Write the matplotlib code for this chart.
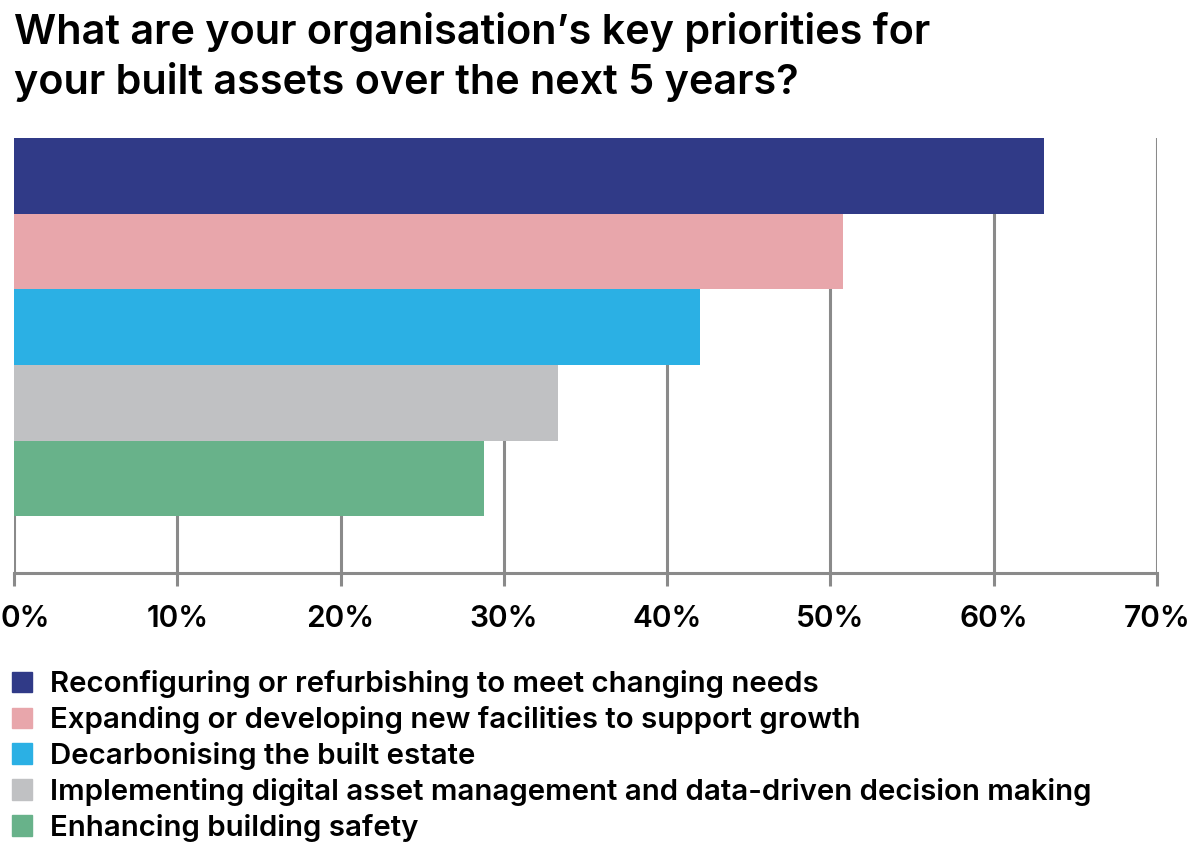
import matplotlib.pyplot as plt
import matplotlib.patches as patches
from matplotlib.transforms import ScaledTranslation

plt.rcParams['font.family'] = ['Inter', 'DejaVu Sans']

# data, top bar first
priorities = ['Reconfiguring or refurbishing to meet changing needs',
              'Expanding or developing new facilities to support growth',
              'Decarbonising the built estate',
              'Implementing digital asset management and data-driven decision making',
              'Enhancing building safety']
values = [63.1, 50.8, 42.0, 33.3, 28.8]
colours = ['#303a87', '#e8a6ab', '#2bb0e4', '#c0c1c3', '#68b28a']
ticks = [0, 10, 20, 30, 40, 50, 60, 70]
tick_labels = [f'{t}%' for t in ticks]

fig = plt.figure(figsize=(12, 8.61), dpi=100)
ax = fig.add_axes([14/1200, 1 - 573/861, (1157 - 14)/1200, (573 - 138)/861])

grid_col = '#8a8a8a'
for t in ticks:
    ax.axvline(t, color=grid_col, lw=2.2, zorder=1)

ypos = list(range(len(values)))
ax.barh(ypos, values, height=1.0, color=colours, zorder=2)

ax.set_xlim(0, 70)
ax.set_ylim(5.25, -0.5)
ax.set_yticks([])
ax.set_xticks(ticks)
ax.set_xticklabels(tick_labels, fontsize=21.5, fontweight='semibold')
ax.tick_params(axis='x', length=9, width=2.2, color=grid_col, pad=14)
for s in ['top', 'right', 'left']:
    ax.spines[s].set_visible(False)
ax.spines['bottom'].set_color(grid_col)
ax.spines['bottom'].set_linewidth(2.2)
ax.spines['bottom'].set_zorder(3)

# first label sits a bit to the right so it stays inside the picture
lab0 = ax.get_xticklabels()[0]
lab0.set_transform(lab0.get_transform() + ScaledTranslation(11/100, 0, fig.dpi_scale_trans))

fig.text(14/1200, 1 - 12/861,
         'What are your organisation\u2019s key priorities for\nyour built assets over the next 5 years?',
         fontsize=29.8, fontweight='semibold', va='top', ha='left', linespacing=1.3)

handles = [patches.Patch(color=c, label=l) for c, l in zip(colours, priorities)]
fig.legend(handles=handles, loc='upper left', bbox_to_anchor=(12/1200, 1 - 670/861),
           frameon=False, prop={'weight': 'semibold', 'size': 21.2},
           handlelength=0.68, handleheight=0.68, handletextpad=0.6,
           labelspacing=0.27, borderpad=0, borderaxespad=0)

fig.savefig('out.png', dpi=100)
